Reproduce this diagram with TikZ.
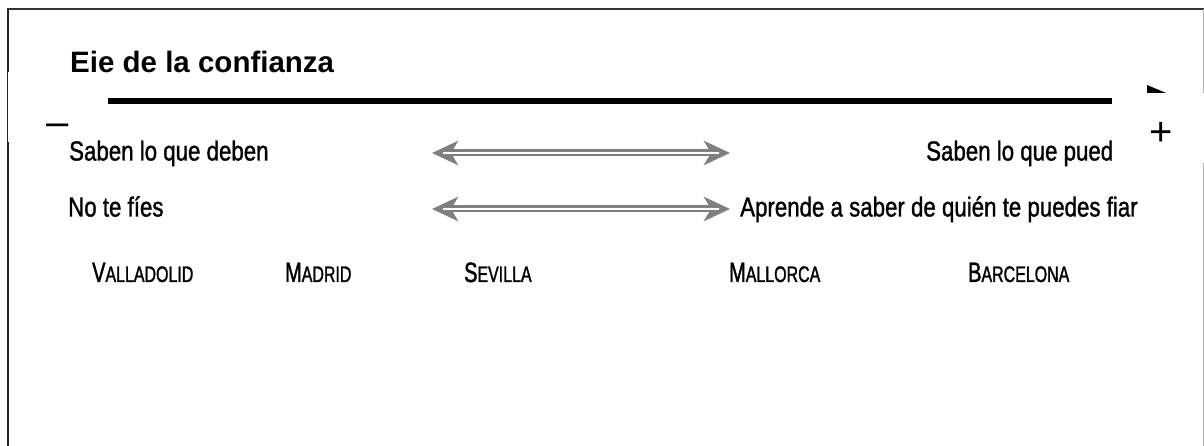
\documentclass[tikz,border=0pt]{standalone}
\usepackage{fontspec}
\setmainfont{Liberation Sans}
\newfontfamily\narrowfont[FakeStretch=0.81,FakeBold=1.2]{Liberation Sans}
\newfontfamily\cityfont[FakeStretch=0.71,FakeBold=1.4]{Liberation Sans}
\usetikzlibrary{arrows.meta}

% small-capitals city name: large initial, smaller remaining capitals
\newcommand\citysc[2]{{\fontsize{28}{31}\selectfont #1}{\fontsize{22.5}{25}\selectfont #2}}

\tikzset{
  frameline/.style={line width=2.4pt, draw=black!85},
  axisline/.style={line width=6.5pt, -{Triangle[length=39pt,width=30pt]}},
  twoway/.style={line width=7pt, draw=black!50,
    {Stealth[length=26pt,width=24pt,inset=7pt]}-{Stealth[length=26pt,width=24pt,inset=7pt]}},
  twowaycore/.style={line width=2pt, draw=white, shorten <=11pt, shorten >=11pt},
  cover/.style={fill=white, draw=none},
  label/.style={inner sep=0pt, anchor=base west, font=\narrowfont\fontsize{27.5}{30}\selectfont},
  city/.style={inner sep=0pt, anchor=base west, font=\cityfont},
  sign/.style={inner sep=0pt, anchor=base, font=\fontsize{40}{44}\selectfont},
}

\begin{document}
\begin{tikzpicture}[x=1pt, y=-1pt]
  \useasboundingbox (0,0) rectangle (1204,446);
  \fill[white] (0,0) rectangle (1204,446);

  % outer frame (top, left, right)
  \draw[line width=2pt, draw=black!80] (7,9) -- (1204,9);
  \draw[frameline] (8,9) -- (8,446);
  \draw[line width=1pt, draw=black!30] (1203,9) -- (1203,446);

  % confidence axis
  \coordinate (axL) at (108,101);
  \coordinate (axR) at (1186,101);
  \draw[axisline] (axL) -- (axR);

  % right-hand label, partly hidden by the cover patch
  \node[label] (r1) at (926,160.5) {Saben lo que pueden};

  % cover patches at the two ends of the axis
  \fill[cover] (8.2,72) rectangle (100,142);
  \fill[cover] (1112,93) rectangle (1206,163);

  % title
  \node[inner sep=0pt, anchor=base west, font=\bfseries\fontsize{29.5}{33}\selectfont]
    (title) at (70,72.5) {Eie de la confianza};

  % ends of the axis
  \node[sign] (minus) at (57.5,135.5) {–};
  \node[sign] (plus) at (1161,146) {+};

  % first row
  \node[label] (l1) at (69,160.5) {Saben lo que deben};
  \coordinate (a1l) at (432,153);
  \coordinate (a1r) at (730,153);
  \draw[twoway] (a1l) -- (a1r);
  \draw[twowaycore] (a1l) -- (a1r);

  % second row
  \node[label] (l2) at (68,216.5) {No te fíes};
  \node[label] (r2) at (740,216.5) {Aprende a saber de quién te puedes fiar};
  \coordinate (a2l) at (432,209);
  \coordinate (a2r) at (730,209);
  \draw[twoway] (a2l) -- (a2r);
  \draw[twowaycore] (a2l) -- (a2r);

  % cities
  \node[city] (c1) at (92,282) {\citysc{V}{ALLADOLID}};
  \node[city] (c2) at (285,282) {\citysc{M}{ADRID}};
  \node[city] (c3) at (464,282) {\citysc{S}{EVILLA}};
  \node[city] (c4) at (729,282) {\citysc{M}{ALLORCA}};
  \node[city] (c5) at (968,282) {\citysc{B}{ARCELONA}};
\end{tikzpicture}
\end{document}
